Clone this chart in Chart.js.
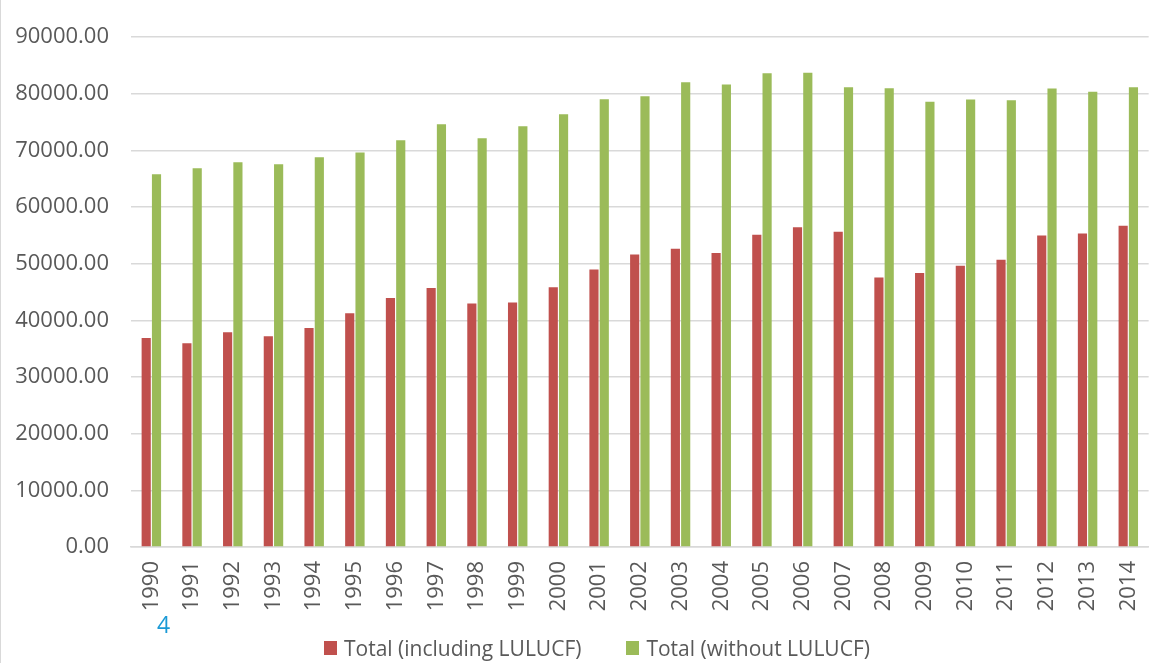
<!DOCTYPE html>
<html>
<head>
<meta charset="utf-8">
<script src="https://cdn.jsdelivr.net/npm/chart.js@4/dist/chart.umd.min.js"></script>
<style>
  html, body { margin: 0; padding: 0; background: #ffffff; }
  #wrap { position: relative; width: 1169px; height: 663px; }
  #leftline { position: absolute; left: 0; top: 0; width: 1px; height: 663px; background: #d9d9d9; }
  #note { position: absolute; left: 157px; top: 609px; font-family: "Open Sans", sans-serif; font-size: 23px; color: #1b9ad6; line-height: 30px; }
  #legend { position: absolute; left: 324px; top: 636px; display: flex; align-items: center; font-family: "Open Sans", sans-serif; font-size: 21px; line-height: 24px; color: #595959; white-space: nowrap; }
  #legend .item { display: flex; align-items: center; margin-right: 45px; }
  #legend .box { display: inline-block; width: 13px; height: 14px; margin-right: 7px; }
</style>
</head>
<body>
<div id="wrap">
  <canvas id="c" width="1169" height="663"></canvas>
  <div id="leftline"></div>
  <div id="note">4</div>
  <div id="legend"></div>
</div>
<script>
const years = ["1990","1991","1992","1993","1994","1995","1996","1997","1998","1999","2000","2001","2002","2003","2004","2005","2006","2007","2008","2009","2010","2011","2012","2013","2014"];
const totalIncludingLULUCF = [36900, 35950, 37900, 37180, 38650, 41240, 43940, 45700, 42950, 43130, 45830, 48950, 51600, 52650, 51880, 55120, 56410, 55650, 47540, 48350, 49650, 50710, 54970, 55340, 56680];
const totalWithoutLULUCF = [65770, 66830, 67890, 67540, 68770, 69600, 71770, 74590, 72120, 74240, 76350, 79000, 79530, 82000, 81600, 83590, 83710, 81120, 80940, 78590, 78950, 78850, 80930, 80330, 81150];
const seriesNames = ["Total (including LULUCF)", "Total (without LULUCF)"];
const yMin = 0, yMax = 90000, yStep = 10000;

const font = "'Open Sans', sans-serif";
const textColor = "#595959";

const chart = new Chart(document.getElementById("c"), {
  type: "bar",
  data: {
    labels: years,
    datasets: [
      { label: seriesNames[0], data: totalIncludingLULUCF, backgroundColor: "#c0504d", borderWidth: 0,
        categoryPercentage: 0.506, barPercentage: 0.89 },
      { label: seriesNames[1], data: totalWithoutLULUCF, backgroundColor: "#9bbb59", borderWidth: 0,
        categoryPercentage: 0.506, barPercentage: 0.89 }
    ]
  },
  options: {
    responsive: false,
    animation: false,
    layout: { padding: { top: 37, right: 15, left: 0, bottom: 0 } },
    plugins: {
      legend: { display: false },
      tooltip: { enabled: false },
      title: { display: false }
    },
    scales: {
      x: {
        grid: { display: false, drawTicks: false },
        border: { display: true, color: "#d9d9d9", width: 1.5 },
        ticks: {
          font: { family: font, size: 22 },
          color: textColor,
          maxRotation: 90,
          minRotation: 90,
          autoSkip: false,
          padding: 14
        },
        afterFit: (s) => { s.height = 116; }
      },
      y: {
        min: yMin,
        max: yMax,
        grid: { color: "#d9d9d9", lineWidth: 1.5, drawTicks: false },
        border: { display: false },
        ticks: {
          stepSize: yStep,
          font: { family: font, size: 22 },
          color: textColor,
          padding: 22,
          callback: (v) => Number(v).toFixed(2)
        },
        afterFit: (s) => { s.width = 131; }
      }
    }
  }
});

// HTML legend built from the chart's datasets
const legendEl = document.getElementById("legend");
chart.data.datasets.forEach((ds) => {
  const item = document.createElement("span");
  item.className = "item";
  const box = document.createElement("span");
  box.className = "box";
  box.style.background = ds.backgroundColor;
  const txt = document.createElement("span");
  txt.textContent = ds.label;
  item.appendChild(box);
  item.appendChild(txt);
  legendEl.appendChild(item);
});
</script>
</body>
</html>
